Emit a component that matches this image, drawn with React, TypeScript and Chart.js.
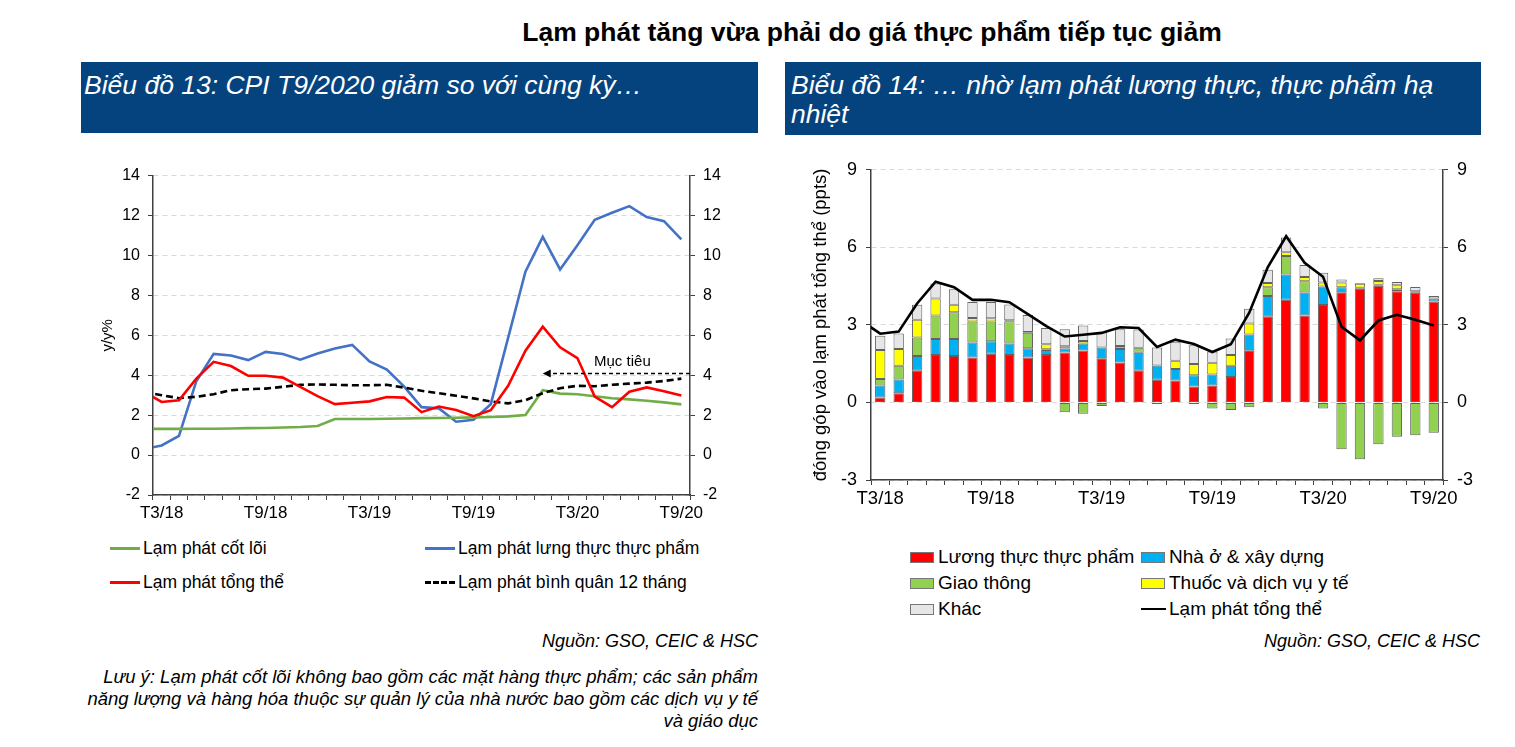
import React, { useEffect, useRef } from 'react';
import { Chart, registerables } from 'chart.js';

Chart.register(...registerables);

const FONT = "'Liberation Sans', Arial, sans-serif";

// Months (first entry precedes the visible range; it only feeds the line segment clipped at the left axis)
const MONTHS = ['T2/18', 'T3/18', 'T4/18', 'T5/18', 'T6/18', 'T7/18', 'T8/18', 'T9/18', 'T10/18', 'T11/18', 'T12/18',
  'T1/19', 'T2/19', 'T3/19', 'T4/19', 'T5/19', 'T6/19', 'T7/19', 'T8/19', 'T9/19', 'T10/19', 'T11/19', 'T12/19',
  'T1/20', 'T2/20', 'T3/20', 'T4/20', 'T5/20', 'T6/20', 'T7/20', 'T8/20', 'T9/20'];
const FIRST_MONTH = 'T3/18';
const TICK_LABELS = ['T3/18', 'T9/18', 'T3/19', 'T9/19', 'T3/20', 'T9/20'];

// Chart 13 (y/y %)
const CORE = [1.31, 1.31, 1.31, 1.32, 1.32, 1.33, 1.35, 1.36, 1.38, 1.41, 1.46, 1.81, 1.81, 1.81, 1.82, 1.83, 1.85, 1.86,
  1.87, 1.89, 1.91, 1.94, 2.01, 3.25, 3.08, 3.05, 2.95, 2.85, 2.79, 2.72, 2.64, 2.54];
const FOOD_INFL = [0.3, 0.48, 0.96, 3.7, 5.07, 4.99, 4.76, 5.17, 5.06, 4.78, 5.09, 5.34, 5.52, 4.69, 4.28, 3.43, 2.40, 2.34,
  1.67, 1.77, 2.55, 5.87, 9.19, 10.93, 9.30, 10.51, 11.79, 12.14, 12.47, 11.92, 11.72, 10.80];
const CPI = [3.15, 2.66, 2.74, 3.83, 4.67, 4.46, 3.97, 3.97, 3.88, 3.42, 2.95, 2.55, 2.62, 2.69, 2.91, 2.88, 2.15, 2.43,
  2.26, 1.95, 2.25, 3.47, 5.23, 6.43, 5.40, 4.86, 2.93, 2.40, 3.17, 3.39, 3.20, 2.98];
const AVG12 = [3.15, 3.00, 2.85, 2.92, 3.05, 3.25, 3.30, 3.33, 3.42, 3.52, 3.54, 3.52, 3.50, 3.50, 3.52, 3.38, 3.22, 3.10,
  2.97, 2.84, 2.69, 2.59, 2.75, 3.10, 3.35, 3.47, 3.45, 3.52, 3.58, 3.63, 3.71, 3.83];
const TARGET_VALUE = 4.1;
const TARGET_FROM = 'T1/20';
const TARGET_LABEL = 'Mục tiêu';

// Chart 14 (contribution, ppts)
const C_FOOD = [null, 0.19, 0.36, 1.23, 1.84, 1.80, 1.74, 1.88, 1.84, 1.74, 1.84, 1.93, 2.01, 1.71, 1.55, 1.23, 0.88, 0.85,
  0.62, 0.66, 0.98, 2.02, 3.32, 3.97, 3.36, 3.77, 4.26, 4.40, 4.51, 4.30, 4.24, 3.91];
const C_HOUSING = [null, 0.47, 0.53, 0.57, 0.61, 0.65, 0.58, 0.49, 0.44, 0.36, 0.19, 0.16, 0.27, 0.42, 0.52, 0.69, 0.55, 0.44,
  0.43, 0.42, 0.44, 0.61, 0.80, 0.98, 0.89, 0.72, 0.20, 0.04, 0.04, 0.08, 0.06, 0.11];
const C_TRANSPORT = [null, 0.25, 0.53, 0.71, 0.91, 1.04, 0.81, 0.76, 0.86, 0.60, 0.03, -0.38, -0.44, -0.14, 0.11, 0.20, -0.06, -0.02,
  -0.06, -0.23, -0.29, -0.19, 0.34, 0.72, 0.44, -0.23, -1.81, -2.20, -1.62, -1.33, -1.27, -1.17];
const C_MEDICAL = [null, 1.12, 0.65, 0.69, 0.66, 0.29, 0.14, 0.13, 0.04, 0.03, 0.19, 0.08, 0.10, null, null, null, null, 0.32,
  0.44, 0.46, 0.42, 0.42, 0.16, 0.14, 0.16, 0.15, 0.18, 0.15, 0.15, 0.15, null, null];
const C_OTHER = [null, 0.55, 0.60, 0.58, 0.58, 0.60, 0.62, 0.63, 0.61, 0.65, 0.63, 0.66, 0.60, 0.60, 0.65, 0.70, 0.70, 0.74,
  0.72, 0.43, 0.63, 0.57, 0.51, 0.57, 0.47, 0.38, 0.12, 0.03, 0.10, 0.13, 0.17, 0.10];

const AXIS = '#404040';
const GRID = '#d9d9d9';

const xTickCallback = function (this: any, _v: any, i: number) {
  const lab = MONTHS[i + 1];
  return TICK_LABELS.includes(lab) ? lab : '';
};

const targetPlugin = {
  id: 'targetArrow',
  afterDatasetsDraw(chart: any) {
    const { ctx, chartArea, scales } = chart;
    const y = Math.round(scales.y.getPixelForValue(TARGET_VALUE)) + 0.5;
    const xTip = scales.x.getPixelForValue(MONTHS.indexOf(TARGET_FROM));
    const xEnd = chartArea.right;
    ctx.save();
    ctx.strokeStyle = '#000';
    ctx.fillStyle = '#000';
    ctx.lineWidth = 1.5;
    ctx.setLineDash([4, 3]);
    ctx.beginPath();
    ctx.moveTo(xEnd, y);
    ctx.lineTo(xTip + 7, y);
    ctx.stroke();
    ctx.setLineDash([]);
    ctx.beginPath();
    ctx.moveTo(xTip, y);
    ctx.lineTo(xTip + 8, y - 4);
    ctx.lineTo(xTip + 8, y + 4);
    ctx.closePath();
    ctx.fill();
    ctx.font = `15px ${FONT}`;
    ctx.textAlign = 'center';
    ctx.textBaseline = 'middle';
    ctx.fillText(TARGET_LABEL, (xTip + xEnd) / 2 + 6, y - 12);
    ctx.restore();
  },
};

function LeftChart() {
  const ref = useRef<HTMLCanvasElement>(null);
  useEffect(() => {
    const line = (label: string, data: any[], color: string, dash?: number[]) => ({
      label, data, borderColor: color, backgroundColor: color, borderWidth: 2.6,
      pointRadius: 0, borderDash: dash || [], tension: 0, fill: false,
    });
    const chart = new Chart(ref.current!, {
      type: 'line',
      data: {
        labels: MONTHS,
        datasets: [
          line('Lạm phát tổng thể', CPI, '#ff0000'),
          line('Lạm phát bình quân 12 tháng', AVG12, '#000000', [7, 4]),
          line('Lạm phát cốt lõi', CORE, '#70ad47'),
          line('Lạm phát lưng thực thực phẩm', FOOD_INFL, '#4472c4'),
        ],
      },
      options: {
        animation: false,
        responsive: false,
        layout: { padding: { top: 15 } },
        plugins: { legend: { display: false }, tooltip: { enabled: false } },
        scales: {
          x: {
            type: 'category',
            min: FIRST_MONTH,
            offset: true,
            grid: { display: true, drawOnChartArea: false, offset: true, tickLength: 5, tickColor: AXIS, color: AXIS },
            border: { color: AXIS, width: 1.5 },
            ticks: { autoSkip: false, maxRotation: 0, padding: 3, color: '#000', font: { size: 17, family: FONT }, callback: xTickCallback },
            afterFit: (s: any) => { s.height = 25; },
          },
          y: {
            position: 'left',
            min: -2, max: 14,
            ticks: { stepSize: 2, padding: 8, color: '#000', font: { size: 16, family: FONT } },
            grid: { color: GRID, tickColor: AXIS, tickLength: 5, tickBorderDash: [] },
            border: { color: AXIS, width: 1.5, dash: [5, 4] },
            title: { display: true, text: 'y/y%', color: '#000', font: { size: 15, family: FONT } },
            afterFit: (s: any) => { s.width = 58; },
          },
          y2: {
            position: 'right',
            min: -2, max: 14,
            ticks: { stepSize: 2, padding: 8, color: '#000', font: { size: 16, family: FONT } },
            grid: { drawOnChartArea: false, tickColor: AXIS, tickLength: 5, tickBorderDash: [] },
            border: { color: AXIS, width: 1.5 },
            afterFit: (s: any) => { s.width = 45; },
          },
        },
      } as any,
      plugins: [targetPlugin],
    });
    return () => chart.destroy();
  }, []);
  return <canvas ref={ref} width={640} height={362} style={{ position: 'absolute', left: 95, top: 158, width: 640, height: 362 }} />;
}

function RightChart() {
  const ref = useRef<HTMLCanvasElement>(null);
  useEffect(() => {
    const bar = (label: string, data: any[], color: string) => ({
      type: 'bar', label, data, backgroundColor: color, borderColor: 'rgba(70,70,70,0.85)', borderWidth: 1,
      borderSkipped: false, barPercentage: 0.56, categoryPercentage: 1, stack: 'c', order: 2,
    });
    const chart = new Chart(ref.current!, {
      type: 'bar',
      data: {
        labels: MONTHS,
        datasets: [
          { type: 'line', label: 'Lạm phát tổng thể', data: CPI, borderColor: '#000', backgroundColor: '#000', borderWidth: 2.6, pointRadius: 0, tension: 0, stack: 'cpi', order: 1 },
          bar('Lương thực thực phẩm', C_FOOD, '#ff0000'),
          bar('Nhà ở & xây dựng', C_HOUSING, '#00b0f0'),
          bar('Giao thông', C_TRANSPORT, '#92d050'),
          bar('Thuốc và dịch vụ y tế', C_MEDICAL, '#ffff00'),
          bar('Khác', C_OTHER, '#e6e6e6'),
        ] as any,
      },
      options: {
        animation: false,
        responsive: false,
        layout: { padding: { top: 15 } },
        plugins: { legend: { display: false }, tooltip: { enabled: false } },
        scales: {
          x: {
            type: 'category',
            min: FIRST_MONTH,
            offset: true,
            stacked: true,
            grid: { display: true, drawOnChartArea: false, offset: true, tickLength: 5, tickColor: AXIS, color: AXIS },
            border: { color: AXIS, width: 1.5 },
            ticks: { autoSkip: false, maxRotation: 0, padding: 3, color: '#000', font: { size: 18.5, family: FONT }, callback: xTickCallback },
            afterFit: (s: any) => { s.height = 30; },
          },
          y: {
            position: 'left',
            stacked: true,
            min: -3, max: 9,
            ticks: { stepSize: 3, padding: 9, color: '#000', font: { size: 18, family: FONT } },
            grid: { color: GRID, tickColor: AXIS, tickLength: 5, tickBorderDash: [] },
            border: { color: AXIS, width: 1.5, dash: [5, 4] },
            title: { display: true, text: 'đóng góp vào lạm phát tổng thể (ppts)', color: '#000', font: { size: 18.5, family: FONT } },
            afterFit: (s: any) => { s.width = 65; },
          },
          y2: {
            position: 'right',
            min: -3, max: 9,
            ticks: { stepSize: 3, padding: 9, color: '#000', font: { size: 18, family: FONT } },
            grid: { drawOnChartArea: false, tickColor: AXIS, tickLength: 5, tickBorderDash: [] },
            border: { color: AXIS, width: 1.5 },
            afterFit: (s: any) => { s.width = 47; },
          },
        },
      } as any,
    });
    return () => chart.destroy();
  }, []);
  return <canvas ref={ref} width={684} height={360} style={{ position: 'absolute', left: 806, top: 150, width: 684, height: 360 }} />;
}

const LEFT_LEGEND = [
  { label: 'Lạm phát cốt lõi', color: '#70ad47', dash: false, x: 110, y: 548 },
  { label: 'Lạm phát lưng thực thực phẩm', color: '#4472c4', dash: false, x: 425, y: 548 },
  { label: 'Lạm phát tổng thể', color: '#ff0000', dash: false, x: 110, y: 582 },
  { label: 'Lạm phát bình quân 12 tháng', color: '#000000', dash: true, x: 425, y: 582 },
];

const RIGHT_LEGEND = [
  { label: 'Lương thực thực phẩm', color: '#ff0000', kind: 'box', x: 910, y: 557 },
  { label: 'Nhà ở & xây dựng', color: '#00b0f0', kind: 'box', x: 1141, y: 557 },
  { label: 'Giao thông', color: '#92d050', kind: 'box', x: 910, y: 583 },
  { label: 'Thuốc và dịch vụ y tế', color: '#ffff00', kind: 'box', x: 1141, y: 583 },
  { label: 'Khác', color: '#e6e6e6', kind: 'box', x: 910, y: 609 },
  { label: 'Lạm phát tổng thể', color: '#000000', kind: 'line', x: 1141, y: 609 },
];

export default function App() {
  const headerStyle: React.CSSProperties = {
    position: 'absolute', background: '#05437f', color: '#fff', fontStyle: 'italic', fontSize: 26.5,
    lineHeight: '29px', paddingLeft: 3, paddingTop: 9, boxSizing: 'border-box', fontFamily: FONT, whiteSpace: 'nowrap',
  };
  return (
    <div style={{ position: 'fixed', left: 0, top: 0, width: 1515, height: 747, background: '#fff', fontFamily: FONT, color: '#000', overflow: 'hidden' }}>
      <div style={{ position: 'absolute', left: 272, top: 18, width: 1200, textAlign: 'center', fontSize: 26.5, fontWeight: 'bold', lineHeight: '28px' }}>
        Lạm phát tăng vừa phải do giá thực phẩm tiếp tục giảm
      </div>
      <div style={{ ...headerStyle, left: 81, top: 62, width: 677, height: 71 }}>
        Biểu đồ 13: CPI T9/2020 giảm so với cùng kỳ…
      </div>
      <div style={{ ...headerStyle, left: 785, top: 62, width: 696, height: 73, paddingLeft: 6 }}>
        Biểu đồ 14: … nhờ lạm phát lương thực, thực phẩm hạ<br />nhiệt
      </div>
      <LeftChart />
      <RightChart />
      {LEFT_LEGEND.map((it) => (
        <div key={it.label} style={{ position: 'absolute', left: it.x, top: it.y - 11, height: 22, display: 'flex', alignItems: 'center', fontSize: 17.5, whiteSpace: 'nowrap' }}>
          <span style={{ display: 'inline-block', width: 30, height: 0, borderTop: `3px ${it.dash ? 'dashed' : 'solid'} ${it.color}`, marginRight: 3 }} />
          {it.label}
        </div>
      ))}
      {RIGHT_LEGEND.map((it) => (
        <div key={it.label + it.x} style={{ position: 'absolute', left: it.x, top: it.y - 12, height: 24, display: 'flex', alignItems: 'center', fontSize: 19, whiteSpace: 'nowrap' }}>
          {it.kind === 'box'
            ? <span style={{ display: 'inline-block', width: 22, height: 9, background: it.color, border: '1px solid #777', marginRight: 4 }} />
            : <span style={{ display: 'inline-block', width: 25, height: 0, borderTop: `2.5px solid ${it.color}`, marginRight: 3 }} />}
          {it.label}
        </div>
      ))}
      <div style={{ position: 'absolute', left: 300, width: 458, top: 630, textAlign: 'right', fontSize: 18, fontStyle: 'italic', lineHeight: '22px' }}>
        Nguồn: GSO, CEIC &amp; HSC
      </div>
      <div style={{ position: 'absolute', left: 1022, width: 458, top: 630, textAlign: 'right', fontSize: 18, fontStyle: 'italic', lineHeight: '22px' }}>
        Nguồn: GSO, CEIC &amp; HSC
      </div>
      <div style={{ position: 'absolute', left: 40, width: 718, top: 666, textAlign: 'right', fontSize: 18.5, fontStyle: 'italic', lineHeight: '22px', whiteSpace: 'nowrap' }}>
        Lưu ý: Lạm phát cốt lõi không bao gồm các mặt hàng thực phẩm; các sản phẩm<br />
        năng lượng và hàng hóa thuộc sự quản lý của nhà nước bao gồm các dịch vụ y tế<br />
        và giáo dục
      </div>
    </div>
  );
}
